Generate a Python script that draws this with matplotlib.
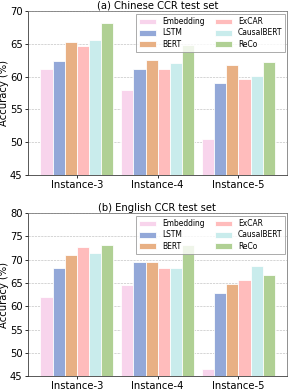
import numpy as np
import matplotlib.pyplot as plt

groups = ['Instance-3', 'Instance-4', 'Instance-5']
models = ['Embedding', 'LSTM', 'BERT', 'ExCAR', 'CausalBERT', 'ReCo']
colors = ['#f8d4ec', '#93a8d8', '#e8b084', '#ffbcbc', '#c9ecec', '#b0d094']

# accuracy (%) per model, one entry per instance group
zh_acc = {
    'Embedding': [61.2, 58.0, 50.5],
    'LSTM': [62.4, 61.1, 59.0],
    'BERT': [65.3, 62.6, 61.7],
    'ExCAR': [64.7, 61.1, 59.6],
    'CausalBERT': [65.6, 62.0, 60.1],
    'ReCo': [68.1, 64.8, 62.2],
}
en_acc = {
    'Embedding': [62.0, 64.6, 46.6],
    'LSTM': [68.3, 69.5, 62.8],
    'BERT': [71.0, 69.5, 64.8],
    'ExCAR': [72.8, 68.3, 65.7],
    'CausalBERT': [71.4, 68.3, 68.6],
    'ReCo': [73.2, 73.1, 66.7],
}

fig = plt.figure(figsize=(4, 390 / 72), dpi=72)
ax1 = fig.add_axes([0.0955, 0.551, 0.901, 0.421])
ax2 = fig.add_axes([0.0955, 0.035, 0.901, 0.419])

x = np.arange(len(groups))
w = 0.15


def draw(ax, data, title, ylim):
    for i, m in enumerate(models):
        ax.bar(x + (i - 2.5) * w, data[m], w, color=colors[i],
               edgecolor='white', linewidth=0.8, label=m, zorder=3)
    ax.set_ylim(*ylim)
    ax.set_xlim(-0.61, 2.6)
    ax.set_xticks(x)
    ax.set_xticklabels(groups, fontsize=10)
    ax.tick_params(axis='both', labelsize=10, length=3, pad=2)
    ax.tick_params(axis='x', pad=1.5)
    ax.set_ylabel('Accuracy (%)', fontsize=10, labelpad=1)
    ax.set_title(title, fontsize=10, pad=1)
    ax.yaxis.grid(True, linestyle='--', color='#bbbbbb', linewidth=0.6, zorder=0)
    for side, s in ax.spines.items():
        s.set_linewidth(0.8)
        s.set_color('#333333' if side in ('left', 'bottom') else '#777777')
    ax.legend(ncol=2, fontsize=7.5, loc='upper right', frameon=True,
              fancybox=False, edgecolor='#999999', handlelength=2.3,
              handleheight=0.8, columnspacing=1.3, borderpad=0.4,
              labelspacing=0.3, borderaxespad=0.2,
              bbox_to_anchor=(1.0, 0.99))


draw(ax1, zh_acc, '(a) Chinese CCR test set', (45, 70))
draw(ax2, en_acc, '(b) English CCR test set', (45, 80))

fig.savefig('out.png', dpi=72)
